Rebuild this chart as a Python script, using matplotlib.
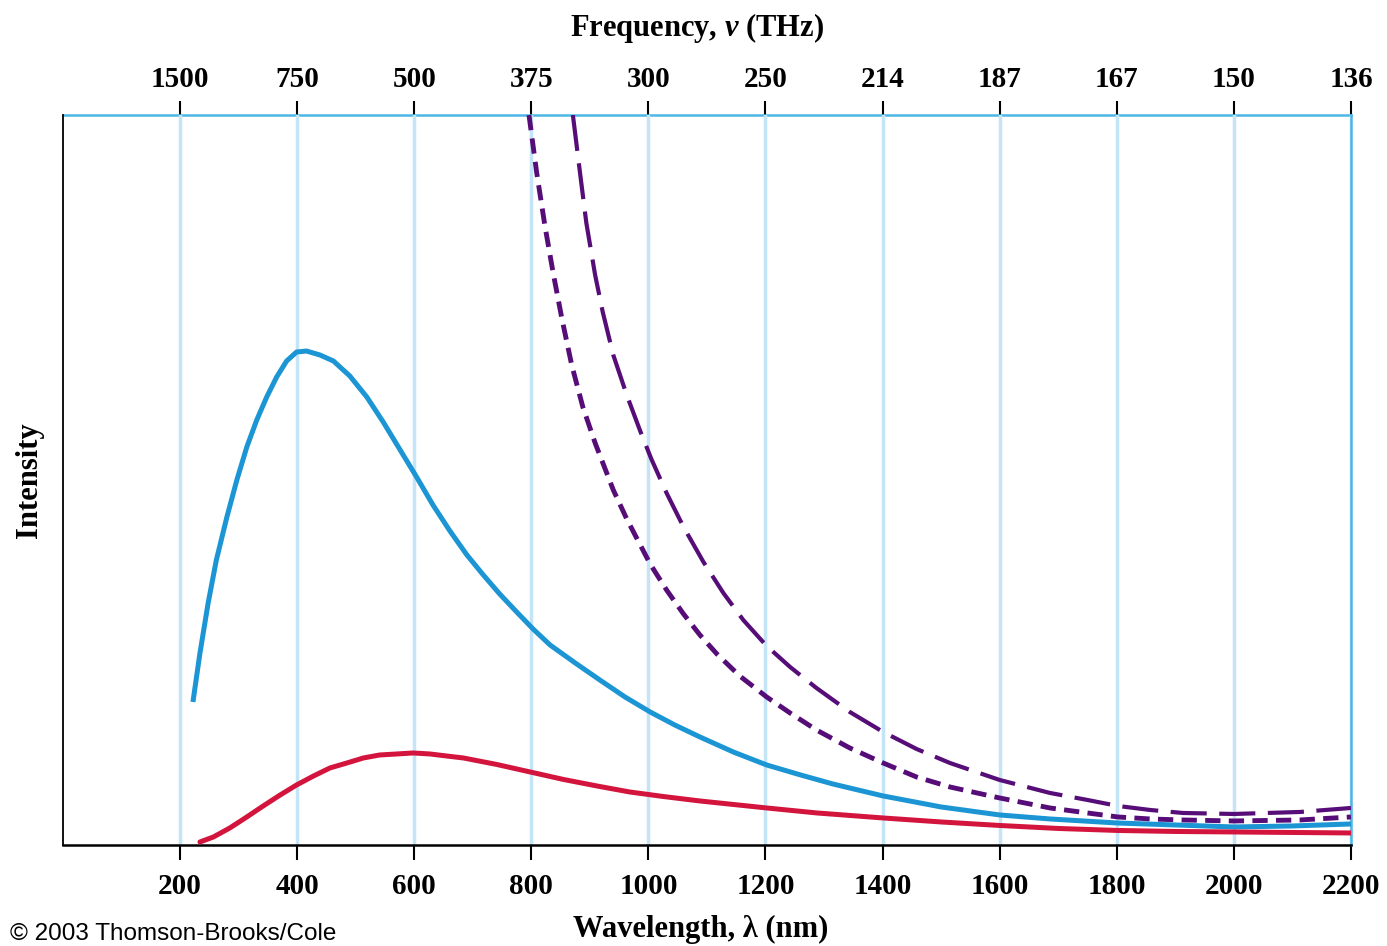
import numpy as np
import matplotlib
matplotlib.use("Agg")
import matplotlib.pyplot as plt

# Values (wavelength in nm, intensity in arbitrary units)
blue_nm = [222, 234, 248, 262, 280, 297, 314, 331, 348, 365, 382, 399, 416, 439, 462,
           490, 519, 547, 576, 604, 632, 661, 690, 718, 746, 775, 803, 832, 875, 917,
           960, 1003, 1045, 1088, 1145, 1202, 1260, 1315, 1401, 1500, 1600, 1686, 1800,
           1900, 2000, 2100, 2200]
blue_val = [143, 192, 242, 285, 328, 365, 398, 425, 448, 468, 484, 493, 494, 490, 484,
            469, 448, 423, 395, 368, 340, 314, 290, 270, 251, 233, 216, 200, 182, 165,
            148, 133, 120, 108, 93, 80, 70, 61, 49, 38, 30, 26, 22, 20, 18, 19, 21]

red_nm = [234, 257, 285, 314, 342, 371, 399, 428, 456, 485, 513, 541, 570, 598, 627,
          655, 684, 741, 798, 855, 912, 968, 1025, 1088, 1202, 1288, 1401, 1500, 1600,
          1700, 1802, 1900, 2000, 2100, 2200]
red_val = [3, 8, 17, 28, 39, 50, 60, 69, 77, 82, 87, 90, 91, 92, 91,
           89, 87, 80.5, 73, 65.5, 59, 53, 48.5, 44, 37, 32, 27, 23, 19.5, 16.5, 14.5,
           13.5, 13, 12.5, 12]

long_nm = [871, 883, 894, 909, 922, 940, 963, 986, 1005, 1031, 1060, 1094, 1128, 1162,
           1202, 1242, 1287, 1344, 1401, 1458, 1515, 1600, 1686, 1750, 1802, 1857, 1913,
           2000, 2113, 2200]
long_val = [730, 673, 622, 570, 533, 490, 450, 414, 386, 352, 318, 283, 252, 225,
            199, 178, 157, 133, 113, 96, 82, 65, 52, 45, 39, 35, 32, 31, 33, 37]

short_nm = [796, 809, 823, 837, 852, 869, 888, 909, 940, 963, 1003, 1031, 1060,
            1088, 1117, 1156, 1202, 1242, 1287, 1344, 1401, 1458, 1515, 1600, 1686,
            1750, 1802, 1857, 1913, 2000, 2113, 2200]
short_val = [730, 673, 620, 573, 527, 480, 438, 402, 355, 326, 281, 255, 231,
             210, 191, 169, 148, 132, 115, 97, 82, 68, 58, 47, 37, 32, 28, 26, 25,
             24, 25, 28]

wl_ticks = [200, 400, 600, 800, 1000, 1200, 1400, 1600, 1800, 2000, 2200]
freq_labels = ["1500", "750", "500", "375", "300", "250", "214", "187", "167", "150", "136"]

plt.rcParams['font.family'] = ['Liberation Serif', 'DejaVu Serif']
plt.rcParams['font.weight'] = 'bold'
plt.rcParams['mathtext.fontset'] = 'custom'
plt.rcParams['mathtext.it'] = 'Liberation Serif:italic:bold'
plt.rcParams['lines.scale_dashes'] = False

sky = '#4cb6e6'
grid_col = '#c4e5f7'

fig = plt.figure(figsize=(13.87, 9.46), dpi=100)
ax = fig.add_axes([0.0454, 0.1068, 0.9286, 0.7716])

ax.plot(blue_nm, blue_val, color='#1b95d3', lw=3.6, solid_capstyle='butt',
        solid_joinstyle='round', zorder=3)
ax.plot(red_nm, red_val, color='#d3143c', lw=3.6, solid_capstyle='round',
        solid_joinstyle='round', zorder=3)
ax.plot(long_nm, long_val, color='#560d78', lw=3.0, dashes=(26, 9),
        dash_joinstyle='round', zorder=3)
ax.plot(short_nm, short_val, color='#560d78', lw=3.5, dashes=(11, 6),
        dash_joinstyle='round', zorder=3)

ax.set_xlim(0, 2200)
ax.set_ylim(0, 730)

ax.set_xticks(wl_ticks)
ax.set_xticklabels([str(w) for w in wl_ticks], fontsize=21, fontweight='bold')
ax.tick_params(axis='x', direction='out', length=11, width=1.5, pad=9, colors='black')
ax.set_yticks([])
ax.grid(axis='x', color=grid_col, lw=2.5, zorder=0)
ax.set_axisbelow(True)

ax.spines['left'].set_linewidth(1.3)
ax.spines['bottom'].set_linewidth(1.8)
ax.spines['right'].set_color(sky)
ax.spines['right'].set_linewidth(1.8)
ax.spines['top'].set_visible(False)

top = ax.secondary_xaxis('top')
top.set_xticks(wl_ticks)
top.set_xticklabels(freq_labels, fontsize=21, fontweight='bold')
top.tick_params(direction='out', length=10, width=1.5, pad=6, colors='black')
top.spines['top'].set_color(sky)
top.spines['top'].set_linewidth(1.8)

ax.set_ylabel('Intensity', fontsize=22, fontweight='bold', labelpad=14)
fig.text(0.5026, 1 - 28 / 946, 'Frequency, $\\mathit{v}$ (THz)', fontsize=22,
         fontweight='bold', ha='center', va='center')
fig.text(0.505, 1 - 929 / 946, 'Wavelength, \u03bb (nm)', fontsize=22,
         fontweight='bold', ha='center', va='center')
fig.text(10 / 1387, 1 / 946, '\u00a9 2003 Thomson-Brooks/Cole', fontsize=17.5,
         family='Liberation Sans', fontweight='normal', ha='left', va='bottom')

fig.savefig('out.png', dpi=100)
